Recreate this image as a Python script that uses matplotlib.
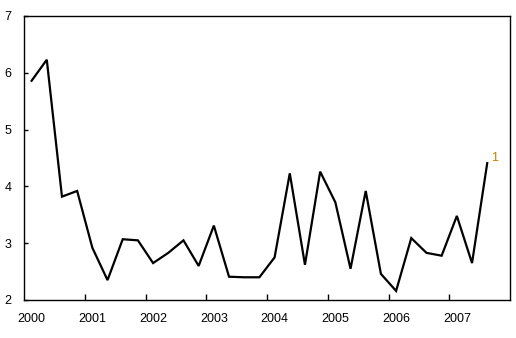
import matplotlib
matplotlib.use("Agg")
import matplotlib.pyplot as plt
import numpy as np

years = [2000, 2001, 2002, 2003, 2004, 2005, 2006, 2007]
year_labels = ["2000", "2001", "2002", "2003", "2004", "2005", "2006", "2007"]
values = [5.86, 6.23, 3.82, 3.92,
          2.92, 2.35, 3.07, 3.05,
          2.65, 2.83, 3.05, 2.60,
          3.31, 2.41, 2.40, 2.40,
          2.75, 4.23, 2.62, 4.26,
          3.72, 2.55, 3.92, 2.46,
          2.16, 3.09, 2.83, 2.78,
          3.48, 2.65, 4.41]
end_label = "1"

plt.rcParams['font.family'] = ['Liberation Sans', 'DejaVu Sans']

n = len(values)
x = 2000 + np.arange(n) / 4 + 0.125

fig = plt.figure(figsize=(5.16, 3.38), dpi=100)
ax = fig.add_axes([24/516, 1 - 300/338, (510-24)/516, (300-16)/338])
ax.plot(x, values, color='black', linewidth=1.6, solid_joinstyle='miter')
ax.set_xlim(2000, 2008)
ax.set_ylim(2, 7)

ax.set_xticks([y + 0.125 for y in years])
ax.set_xticklabels(year_labels, fontsize=9)
ax.set_xticks(list(range(2001, 2008)), minor=True)
ax.tick_params(axis='x', which='major', length=0, pad=9)
ax.tick_params(axis='x', which='minor', direction='in', length=4, width=1)
ax.set_yticks([2, 3, 4, 5, 6, 7])
ax.tick_params(axis='y', direction='in', length=3, width=1, pad=9, labelsize=9)
for s in ax.spines.values():
    s.set_linewidth(1)

ax.annotate(end_label, (x[-1], values[-1]), xytext=(5, 3.6), textcoords='offset points',
            color='#C88000', fontsize=9, ha='center', va='center')

fig.savefig("out.png", dpi=100)
